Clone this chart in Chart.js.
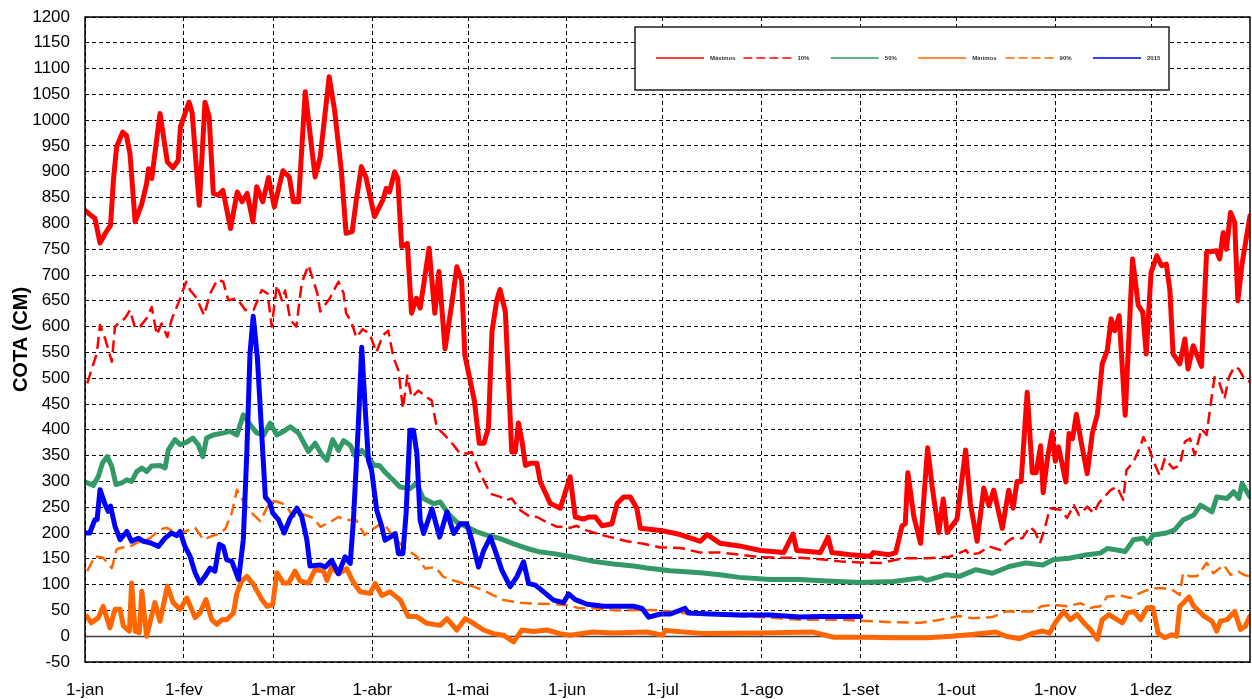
<!DOCTYPE html>
<html lang="pt">
<head>
<meta charset="utf-8">
<title>Cota (cm)</title>
<script src="https://cdn.jsdelivr.net/npm/chart.js@4.4.1/dist/chart.umd.min.js"></script>
<style>
  html, body { margin: 0; padding: 0; background: #fff; }
  #wrap { width: 1252px; height: 699px; }
</style>
</head>
<body>
<div id="wrap"><canvas id="cotaChart" width="1252" height="699"></canvas></div>
<script>
// 📅 X axis: day of year (2015), ticks on the first of each month
const monthDays = [0, 31, 59, 90, 120, 151, 181, 212, 243, 273, 304, 334];
const monthLabels = ['1-jan', '1-fev', '1-mar', '1-abr', '1-mai', '1-jun', '1-jul', '1-ago', '1-set', '1-out', '1-nov', '1-dez'];

// 🔴 Máximos
const maxDays = [0, 2, 3.1, 4.7, 6.3, 8, 8.9, 9.9, 11.8, 13, 14.1, 15.7, 17.8, 19.3, 19.9, 20.9, 23.5, 25.8, 27.6, 29.2, 29.9, 32.6, 33.6, 35.8, 37.6, 38.9, 40.2, 41.8, 43.2, 45.6, 47.7, 49.2, 50.8, 52.6, 53.8, 55.7, 57.5, 59.3, 62, 64, 65.3, 66.9, 69, 70.5, 72.1, 73.7, 76.5, 78.2, 80.3, 81.8, 83.7, 85, 86.6, 88, 90.7, 93.3, 94.4, 95.4, 97, 98, 99.2, 101, 102.3, 103.8, 105, 106.2, 107.8, 109.6, 110.9, 112.8, 115, 116.5, 118, 119, 122, 123.5, 125, 126.4, 127.5, 129, 130, 131.7, 133.7, 134.8, 135.8, 136.9, 138, 139.5, 141.6, 142.6, 145.8, 148.9, 152, 153.6, 156.2, 157.8, 159.9, 162, 165.1, 166.7, 168.8, 170.8, 172.9, 174, 180.3, 186.5, 192.8, 194.9, 199, 205, 211.6, 218.9, 221.8, 223, 230.4, 232.8, 234, 239.8, 246, 247, 252, 254, 256, 257, 257.8, 259.7, 261.8, 263, 264, 265.4, 267.5, 268.9, 270.1, 273.2, 275.9, 277.4, 279.5, 281.6, 283.2, 284.7, 287.4, 289.4, 290.8, 292, 293.3, 295.2, 296.8, 298, 299.4, 300.2, 301.5, 303, 304, 305, 307.3, 308.3, 309.4, 310.6, 312, 314, 315.6, 317.2, 318.7, 320.3, 321.5, 322.6, 324, 325.9, 328.2, 330, 331.4, 332.5, 334, 335.8, 337.3, 338.8, 339.9, 340.9, 343, 344.6, 345.6, 347.2, 349.8, 351.4, 354.5, 355.5, 356.6, 357.6, 358.9, 360.2, 361.2, 362.5, 365];
const maxVals = [825, 815, 810, 762, 780, 796, 884, 948, 977, 970, 935, 803, 838, 877, 906, 887, 1013, 919, 908, 922, 987, 1035, 1013, 835, 1035, 1006, 858, 855, 864, 790, 861, 842, 858, 803, 871, 842, 889, 832, 902, 890, 842, 842, 1055, 974, 890, 929, 1084, 1019, 903, 781, 784, 845, 910, 890, 813, 845, 868, 861, 900, 887, 755, 761, 626, 655, 636, 685, 752, 626, 707, 557, 648, 716, 690, 545, 456, 374, 374, 404, 590, 651, 672, 629, 357, 357, 413, 378, 331, 335, 335, 300, 257, 248, 309, 231, 227, 231, 231, 214, 218, 257, 270, 270, 248, 209, 205, 197, 184, 197, 180, 175, 166, 162, 198, 166, 162, 192, 162, 158, 155, 162, 158, 162, 214, 218, 317, 231, 180, 283, 365, 291, 201, 266, 201, 227, 361, 257, 184, 287, 253, 283, 209, 283, 248, 300, 300, 473, 317, 317, 369, 278, 343, 395, 339, 367, 299, 393, 383, 430, 380, 315, 393, 431, 528, 554, 615, 592, 621, 428, 731, 641, 628, 547, 705, 737, 718, 721, 670, 547, 528, 576, 518, 563, 523, 744, 747, 731, 782, 750, 821, 802, 650, 721, 815];

// 🔴 10%
const p10Days = [0.7, 2.7, 3.7, 4.7, 6.3, 8.4, 9.4, 9.9, 12.5, 14.1, 15.7, 17.2, 19.3, 20.9, 22.5, 24, 25.8, 27.1, 29.2, 31.7, 32.9, 35, 37.3, 39.2, 41.5, 43.3, 44.9, 47.6, 50.2, 52.8, 55.4, 57.2, 58.5, 60.1, 61.7, 62.7, 64.3, 66.2, 67.9, 70, 71.5, 72.8, 73.7, 76.7, 79.4, 81, 81.8, 83.4, 85, 87, 89.2, 91.3, 93.3, 95, 96.6, 98.2, 99.6, 101, 102.3, 104.5, 107, 108.6, 110.2, 112.8, 115.5, 117.5, 119.6, 121.2, 122.8, 124.9, 127, 130.1, 131.7, 133.7, 136.4, 139.5, 141.6, 144.7, 147.9, 149.9, 152, 154, 157.1, 161.4, 164.6, 169.8, 175, 180.3, 186.5, 192.8, 199, 205, 211.6, 217.9, 224, 230.4, 236.7, 243, 249.2, 256.5, 263.8, 270.8, 273.9, 276, 277, 280.1, 283.2, 286.8, 288.9, 290.6, 293.7, 296, 297.6, 299.2, 300.7, 302.3, 305.6, 307.7, 309.8, 311.4, 314, 316.1, 317.6, 321.3, 323.3, 325.3, 326.3, 328.5, 330.6, 331.6, 333.4, 334.6, 336.7, 338.3, 340.9, 343, 344.6, 346.2, 347.7, 349.8, 351.4, 352.7, 353.9, 355.3, 357, 358.4, 360.1, 361.5, 363.5, 365];
const p10Vals = [490, 529, 548, 603, 577, 532, 600, 603, 616, 632, 597, 600, 616, 638, 584, 606, 580, 613, 645, 687, 671, 655, 622, 664, 691, 687, 651, 655, 632, 632, 671, 664, 600, 680, 651, 670, 613, 600, 684, 719, 690, 664, 629, 655, 687, 665, 626, 610, 579, 595, 586, 550, 583, 592, 541, 515, 441, 505, 463, 476, 463, 457, 405, 389, 370, 354, 354, 357, 331, 302, 276, 270, 263, 267, 244, 231, 231, 221, 212, 212, 210, 214, 205, 197, 192, 184, 179, 172, 171, 162, 162, 158, 153, 152, 152, 149, 145, 143, 142, 151, 151, 154, 161, 167, 158, 161, 174, 167, 183, 190, 190, 212, 203, 180, 209, 248, 245, 229, 254, 235, 251, 238, 258, 283, 290, 264, 322, 338, 367, 386, 364, 341, 312, 344, 325, 331, 377, 383, 351, 402, 390, 451, 502, 493, 460, 502, 522, 518, 496, 493];

// 🟢 50%
const p50Days = [0.5, 2.6, 4.2, 5.5, 7, 8.4, 9.7, 11.5, 13.1, 14.6, 16.2, 17.8, 19.3, 20.9, 23.5, 25.1, 26.1, 28.2, 29.8, 31.9, 33.8, 35.5, 36.9, 38.1, 40.2, 43.4, 45.5, 47.6, 49.6, 51.7, 53.8, 56, 58, 60.1, 62.2, 64.3, 66.9, 70, 72.1, 74.2, 75.8, 77.6, 79.4, 81, 83.1, 84.6, 86.7, 88.6, 90.6, 92.2, 94, 96.1, 98.7, 101.8, 103.9, 106, 109.2, 111.3, 113.9, 116.5, 119.6, 122.8, 125.9, 130.1, 134.3, 138.5, 142.7, 146.8, 151.5, 159.3, 165.6, 171.9, 176, 183.4, 192.8, 199, 205, 214.7, 224, 232.5, 243, 253.4, 261.8, 263.8, 269.7, 274, 279.1, 284.3, 289.6, 294.8, 300.1, 303.3, 308.3, 314, 318.1, 320.3, 323.3, 325.9, 328.5, 331.6, 332.8, 334.6, 338.8, 341.4, 344, 347.4, 349.5, 353.1, 354.6, 357.8, 359.9, 361.5, 362.5, 365];
const p50Vals = [298, 292, 310, 336, 348, 329, 294, 297, 303, 300, 319, 326, 319, 330, 331, 326, 361, 381, 371, 376, 384, 371, 348, 384, 390, 394, 397, 390, 429, 410, 394, 390, 413, 390, 397, 406, 394, 358, 374, 352, 341, 381, 360, 379, 370, 350, 360, 347, 331, 331, 318, 305, 289, 286, 296, 267, 257, 260, 237, 221, 212, 202, 196, 189, 179, 170, 163, 160, 155, 145, 140, 136, 132, 127, 123, 119, 114, 110, 110, 107, 104, 106, 113, 108, 119, 116, 129, 122, 135, 142, 138, 148, 151, 158, 161, 170, 167, 164, 187, 190, 180, 196, 200, 206, 225, 235, 254, 241, 270, 267, 280, 267, 296, 270];

// 🟠 Mínimos
const minDays = [0.5, 2, 4.2, 5.7, 7.8, 9.4, 11, 12, 13.9, 14.6, 15.7, 17, 17.8, 19.3, 21.9, 23.5, 25.8, 27.6, 29.8, 31.9, 34.5, 36, 37.9, 39.7, 41.3, 42.9, 44.4, 46.5, 47.6, 49.1, 50.7, 52.8, 55.4, 57, 58.8, 60.1, 62.2, 63.8, 65.8, 67.4, 70, 72.1, 74.7, 75.8, 77.3, 79.4, 82, 84, 86.2, 89.3, 90.9, 93, 95.6, 98.8, 101.3, 103.9, 107.1, 111.3, 113.4, 116.5, 119.1, 121.7, 124.9, 128, 131.1, 134.3, 136.9, 140.5, 144.7, 148.8, 152, 159, 165.6, 176, 181, 181.8, 194, 211.6, 228, 234.6, 246, 253.4, 263.8, 271.7, 277, 285.4, 288.6, 292.8, 297, 300.1, 302.2, 304, 306.6, 308.7, 310.8, 312.9, 315, 317.2, 318.7, 320.8, 323.4, 325, 326.6, 328.7, 330.7, 332.8, 334.6, 336.2, 338.3, 340.4, 342, 343, 344, 345.9, 347.4, 350.6, 353.1, 354.6, 355.7, 357.8, 360.2, 362, 363.5, 365];
const minVals = [39, 26, 36, 58, 16, 52, 52, 20, 10, 103, 10, 7, 87, 0, 65, 29, 97, 65, 52, 74, 36, 45, 71, 32, 23, 32, 32, 45, 84, 107, 116, 100, 71, 58, 61, 123, 103, 103, 126, 107, 103, 129, 126, 108, 134, 121, 131, 105, 86, 83, 102, 79, 86, 70, 38, 38, 25, 21, 34, 12, 34, 25, 12, 5, 2, -11, 12, 9, 12, 5, 2, 8, 6, 8, 2, 11, 5, 6, 8, -2, -2, -3, -3, 0, 3, 8, 0, -5, 6, 10, 6, 26, 48, 32, 42, 26, 13, -6, 32, 42, 32, 26, 45, 48, 32, 55, 55, 6, -3, 3, 0, 58, 64, 76, 58, 39, 29, 10, 29, 32, 48, 13, 19, 39];

// 🟠 90%
const p90Days = [0.7, 3.1, 5.7, 8.4, 9.9, 11, 14.1, 17.2, 20.4, 23.5, 25.6, 28.7, 31.3, 34.5, 37.1, 39.7, 41.3, 43.9, 46, 47.6, 49.6, 51.7, 54.9, 58, 60.1, 62.7, 65.3, 68.4, 71.6, 73.7, 76.8, 79.4, 82, 85, 87.6, 90.3, 93.4, 96.6, 99.8, 104, 106.6, 109.7, 112.3, 115.5, 118.6, 121.7, 124.9, 128, 131.1, 136.4, 140.5, 146.8, 151.5, 155, 159, 166.7, 174, 180.3, 186.5, 199, 211.6, 224, 236.7, 243, 253.4, 261.8, 268, 273.9, 278, 284.3, 288.6, 292.8, 297, 299.7, 303.3, 307.7, 311.9, 315, 318.1, 320.3, 324.5, 327.6, 330.6, 334.4, 338, 340.6, 343, 344, 346.2, 348.4, 351.4, 353.5, 356.8, 358.9, 361.5, 363, 365];
const p90Vals = [126, 155, 152, 132, 168, 171, 174, 184, 190, 207, 210, 200, 203, 210, 187, 194, 197, 207, 239, 284, 261, 242, 223, 261, 261, 255, 232, 236, 229, 212, 221, 231, 225, 225, 196, 208, 221, 192, 173, 154, 131, 134, 115, 108, 102, 96, 89, 79, 70, 65, 63, 62, 60, 54, 54, 50, 51, 50, 45, 41, 37, 32, 32, 30, 27, 26, 32, 39, 35, 37, 48, 48, 48, 58, 61, 58, 64, 55, 58, 77, 79, 74, 84, 93, 93, 90, 80, 122, 116, 116, 142, 122, 138, 119, 125, 119, 116];

// 🔵 2015
const y2015Days = [0.5, 1.5, 3.1, 3.8, 4.7, 6.3, 7.3, 8, 9.4, 11, 13.1, 14.6, 16.7, 18.3, 20.4, 23, 25.1, 27.1, 28.7, 29.8, 31.3, 32.9, 34.5, 36, 37.6, 39.2, 40.7, 42.1, 43.3, 44.4, 46, 48.1, 49.6, 50.7, 51.7, 52.7, 54, 55.3, 56.5, 58, 58.8, 60.6, 62.4, 64.3, 66.4, 67.9, 69.5, 70.5, 73.7, 75.3, 77.3, 79.4, 81.5, 83.1, 84.1, 85.7, 86.7, 87.7, 88.8, 89.8, 91.4, 93, 94, 95.6, 97.2, 98.2, 99.6, 100.6, 101.8, 102.9, 104, 105, 106.1, 108.7, 111.1, 113.4, 115.5, 117.6, 119.6, 121.2, 123.3, 124.9, 127, 128.5, 130.6, 133.2, 135.3, 137.4, 139, 141.1, 143.7, 146.8, 149.9, 151.5, 153.6, 157.3, 162.5, 171.9, 174.5, 176.6, 180.3, 183.4, 188, 189, 196, 205, 214.7, 224, 230.4, 243];
const y2015Vals = [200, 200, 226, 226, 284, 255, 242, 252, 213, 187, 203, 184, 190, 184, 181, 174, 190, 200, 195, 203, 174, 155, 123, 103, 116, 132, 126, 178, 174, 148, 145, 110, 187, 355, 548, 620, 540, 400, 270, 258, 239, 226, 200, 229, 248, 232, 187, 136, 138, 134, 147, 121, 154, 141, 225, 418, 560, 450, 341, 321, 244, 212, 186, 192, 199, 160, 160, 238, 399, 399, 354, 225, 199, 247, 192, 241, 199, 218, 218, 186, 134, 166, 192, 166, 128, 96, 115, 144, 102, 99, 86, 70, 65, 82, 71, 62, 58, 58, 54, 37, 43, 43, 54, 45, 43, 41, 41, 37, 38, 38];

function toPoints(days, vals) {
  return days.map((d, i) => ({ x: d, y: vals[i] }));
}

function lineSet(label, days, vals, color, width, dash, order) {
  return {
    label: label,
    data: toPoints(days, vals),
    borderColor: color,
    backgroundColor: color,
    borderWidth: width,
    borderDash: dash,
    borderJoinStyle: 'round',
    borderCapStyle: dash.length ? 'butt' : 'round',
    pointRadius: 0,
    tension: 0,
    fill: false,
    order: order
  };
}

// 🧱 frame, zero line and the boxed legend
const framePlugin = {
  id: 'frame',
  beforeDatasetsDraw(chart) {
    const { ctx, chartArea: a, scales } = chart;
    const y0 = Math.round(scales.y.getPixelForValue(0)) + 0.5;
    ctx.save();
    ctx.strokeStyle = '#3c3c3c';
    ctx.lineWidth = 1.5;
    ctx.beginPath();
    ctx.moveTo(a.left, y0);
    ctx.lineTo(a.right, y0);
    ctx.stroke();
    ctx.restore();
  },
  afterDatasetsDraw(chart) {
    const { ctx, chartArea: a } = chart;
    ctx.save();
    ctx.strokeStyle = '#000';
    ctx.lineWidth = 1.5;
    ctx.strokeRect(a.left, a.top, a.right - a.left, a.bottom - a.top);

    // legend box
    const bx = 635, by = 27, bw = 534, bh = 63;
    ctx.fillStyle = '#fff';
    ctx.fillRect(bx, by, bw, bh);
    ctx.lineWidth = 1.5;
    ctx.strokeStyle = '#222';
    ctx.strokeRect(bx, by, bw, bh);

    const midY = by + bh / 2 - 0.5;
    ctx.font = 'bold 6px "Liberation Sans", Arial, sans-serif';
    ctx.textBaseline = 'middle';
    chart.data.datasets.forEach((ds, i) => {
      const x = bx + 21 + i * 87.4;
      ctx.globalAlpha = 0.75;
      ctx.strokeStyle = ds.borderColor;
      ctx.lineWidth = 2;
      ctx.setLineDash(ds.borderDash.length ? [9, 4] : []);
      ctx.beginPath();
      ctx.moveTo(x, midY);
      ctx.lineTo(x + 48, midY);
      ctx.stroke();
      ctx.setLineDash([]);
      ctx.globalAlpha = 1;
      ctx.fillStyle = '#333';
      ctx.fillText(ds.label, x + 54, midY);
    });
    ctx.restore();
  }
};

// 📊 CHART SETUP
const ctx = document.getElementById('cotaChart').getContext('2d');
const chart = new Chart(ctx, {
  type: 'line',
  data: {
    datasets: [
      lineSet('Máximos', maxDays, maxVals, '#ff0000', 5, [], 1),
      lineSet('10%', p10Days, p10Vals, '#ff0000', 2.5, [12, 6], 4),
      lineSet('50%', p50Days, p50Vals, '#339966', 5, [], 3),
      lineSet('Mínimos', minDays, minVals, '#ff6600', 5, [], 2),
      lineSet('90%', p90Days, p90Vals, '#ff6600', 2.5, [12, 6], 5),
      lineSet('2015', y2015Days, y2015Vals, '#0000ff', 5, [], 0)
    ]
  },
  options: {
    responsive: false,
    animation: false,
    layout: { padding: { top: 17, right: 2, left: 0, bottom: 0 } },
    plugins: {
      legend: { display: false },
      tooltip: { enabled: false }
    },
    scales: {
      x: {
        type: 'linear',
        min: 0,
        max: 365,
        afterBuildTicks: (scale) => {
          scale.ticks = monthDays.map(v => ({ value: v }));
        },
        afterFit: (scale) => { scale.height = 37; },
        grid: { color: '#000', lineWidth: 1, drawTicks: false },
        border: { display: false, dash: [4, 3] },
        ticks: {
          autoSkip: false,
          maxRotation: 0,
          padding: 18,
          color: '#000',
          font: { family: '"Liberation Sans", Arial, sans-serif', size: 17 },
          callback: (value) => monthLabels[monthDays.indexOf(value)]
        }
      },
      y: {
        min: -50,
        max: 1200,
        afterFit: (scale) => {
          scale.width = 85;
          scale.paddingTop = 0;
          scale.paddingBottom = 0;
        },
        grid: {
          lineWidth: 1,
          drawTicks: false,
          color: (c) => (c.tick && c.tick.value === 0 ? 'rgba(0,0,0,0)' : '#000')
        },
        border: { display: false, dash: [4, 3] },
        ticks: {
          stepSize: 50,
          autoSkip: false,
          padding: 15,
          color: '#000',
          font: { family: '"Liberation Sans", Arial, sans-serif', size: 17 },
          callback: (value) => String(value)
        },
        title: {
          display: true,
          text: 'COTA (CM)',
          color: '#000',
          padding: { top: 9, bottom: 0 },
          font: { family: '"Liberation Sans", Arial, sans-serif', size: 20, weight: 'bold' }
        }
      }
    }
  },
  plugins: [framePlugin]
});
</script>
</body>
</html>
